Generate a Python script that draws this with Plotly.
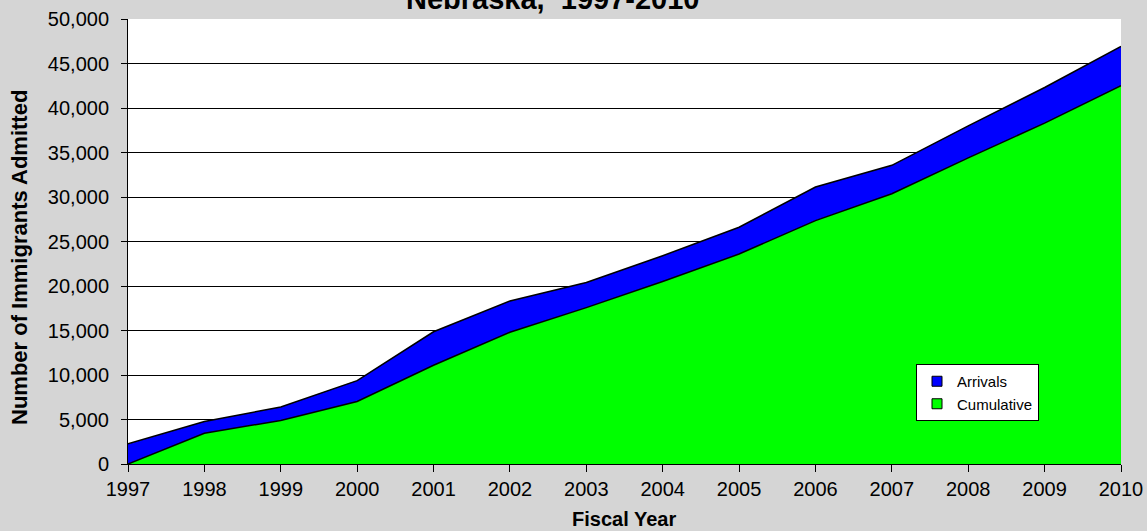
import plotly.graph_objects as go

years = list(range(1997, 2011))
cumulative = [0, 3460, 4890, 7030, 11100, 14800, 17570, 20500, 23590, 27350, 30360, 34400, 38300, 42520]
arrivals = [2260, 1320, 1510, 2340, 3760, 3520, 2830, 2900, 3010, 3770, 3200, 3600, 4000, 4400]
y_ticks = list(range(0, 50001, 5000))

title_text = "Nebraska,  1997-2010"
x_title = "Fiscal Year"
y_title = "Number of Immigrants Admitted"

BG = "#d5d5d5"

fig = go.Figure()
fig.add_trace(go.Scatter(
    x=years, y=cumulative, name="Cumulative", stackgroup="one", mode="lines",
    line=dict(color="black", width=1.5), fillcolor="#00ff00", showlegend=False,
    hovertemplate="%{y:,}<extra>Cumulative</extra>"))
fig.add_trace(go.Scatter(
    x=years, y=arrivals, name="Arrivals", stackgroup="one", mode="lines",
    line=dict(color="black", width=1.5), fillcolor="#0000ff", showlegend=False,
    hovertemplate="%{y:,}<extra>Arrivals</extra>"))
# legend entries with square swatches
fig.add_trace(go.Scatter(x=[None], y=[None], name="Arrivals", mode="markers",
                         marker=dict(symbol="square", size=10, color="#0000ff",
                                     line=dict(color="black", width=1))))
fig.add_trace(go.Scatter(x=[None], y=[None], name="Cumulative", mode="markers",
                         marker=dict(symbol="square", size=10, color="#00ff00",
                                     line=dict(color="black", width=1))))

L, R, T, B = 128, 26, 19, 67
W, H = 1147, 531
pw, ph = W - L - R, H - T - B

def px_x(x):
    return (x - L) / pw

def px_y(y):
    return (H - B - y) / ph

font = "Arial, Liberation Sans, sans-serif"

fig.update_layout(
    width=W, height=H,
    margin=dict(l=L, r=R, t=T, b=B, pad=0, autoexpand=False),
    paper_bgcolor=BG,
    plot_bgcolor="white",
    font=dict(family=font, size=20, color="black"),
    showlegend=True,
    legend=dict(x=px_x(916), y=px_y(364), xanchor="left", yanchor="top",
                bgcolor="white", bordercolor="black", borderwidth=1,
                font=dict(size=15, family=font), itemwidth=30,
                traceorder="normal", tracegroupgap=0),
    xaxis=dict(range=[1997, 2010], dtick=1, tick0=1997, showgrid=False,
               showline=True, linecolor="black", linewidth=1,
               ticks="outside", ticklen=7, tickcolor="black",
               ticklabeloverflow="allow", automargin=False,
               tickfont=dict(size=20), zeroline=False, fixedrange=True),
    yaxis=dict(range=[0, 50000], tickvals=y_ticks, tickformat=",",
               showgrid=True, gridcolor="black", gridwidth=1,
               showline=True, linecolor="black", linewidth=1,
               ticks="outside", ticklen=6, tickcolor="black",
               ticklabelstandoff=8, ticklabeloverflow="allow", automargin=False,
               tickfont=dict(size=20), zeroline=False, fixedrange=True),
    annotations=[
        dict(text="<b>" + title_text + "</b>", xref="paper", yref="paper",
             x=px_x(552), y=1, xanchor="center", yanchor="bottom", yshift=2,
             showarrow=False, font=dict(size=29, family=font)),
        dict(text="<b>" + x_title + "</b>", xref="paper", yref="paper",
             x=px_x(624), y=px_y(519), xanchor="center", yanchor="middle",
             showarrow=False, font=dict(size=20, family=font)),
        dict(text="<b>" + y_title + "</b>", xref="paper", yref="paper",
             x=px_x(19), y=px_y(258), xanchor="center", yanchor="middle",
             textangle=-90, showarrow=False, font=dict(size=22, family=font)),
    ],
)

fig.write_html(
    "out.html",
    config={"displayModeBar": False},
    post_script=("document.body.style.margin='0';"
                 "document.body.style.overflow='hidden';"
                 "document.body.style.background='" + BG + "';"),
)
